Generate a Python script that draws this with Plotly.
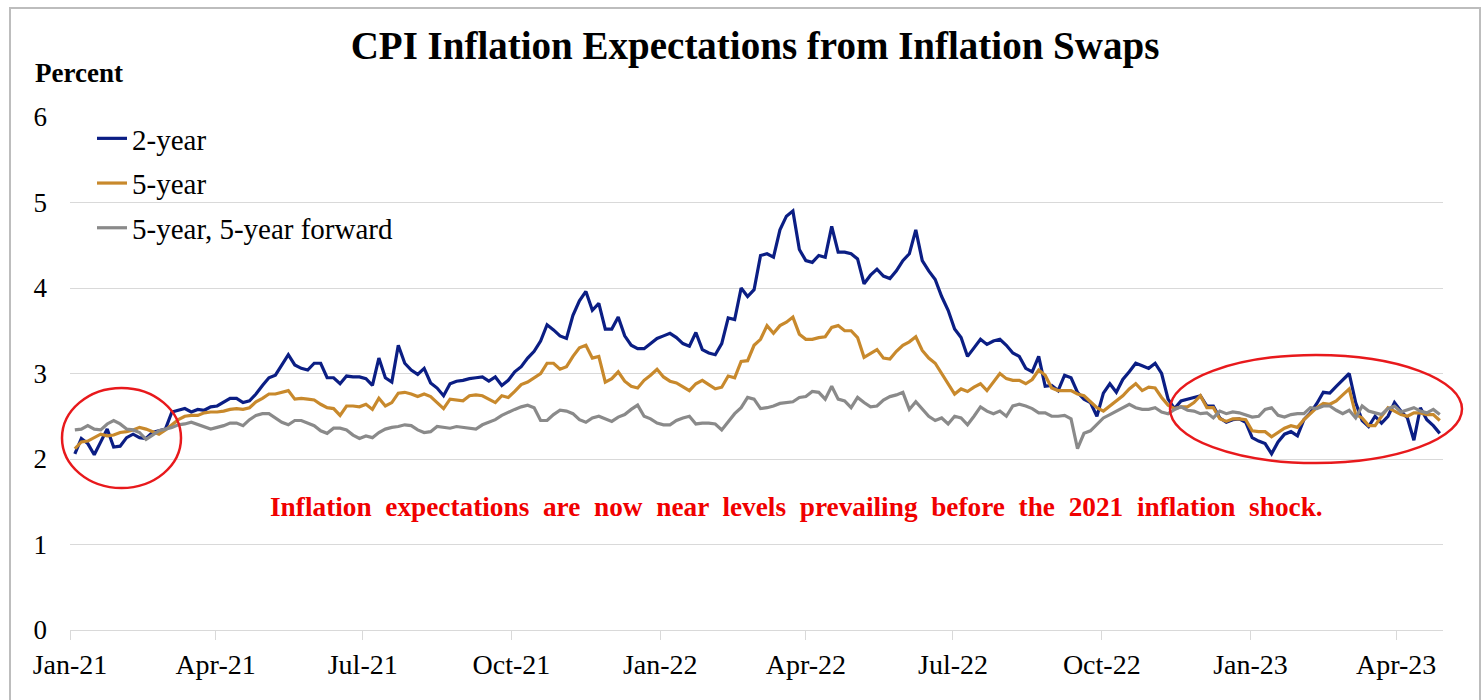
import pandas as pd
import plotly.graph_objects as go

# Observation dates (every 4 days, Jan 2021 - Apr 2023)
dates = pd.date_range("2021-01-04", periods=212, freq="4D")

two_year = [
    2.06, 2.24, 2.18, 2.05, 2.20, 2.35, 2.14, 2.15, 2.25, 2.29,
    2.25, 2.24, 2.31, 2.33, 2.35, 2.55, 2.57, 2.59, 2.55, 2.58,
    2.57, 2.61, 2.62, 2.66, 2.71, 2.71, 2.66, 2.68, 2.76, 2.86,
    2.95, 2.98, 3.10, 3.22, 3.10, 3.06, 3.04, 3.12, 3.12, 2.95,
    2.95, 2.88, 2.97, 2.96, 2.96, 2.94, 2.86, 3.18, 2.95, 2.90,
    3.33, 3.12, 3.04, 2.99, 3.06, 2.89, 2.83, 2.74, 2.88, 2.91,
    2.92, 2.94, 2.95, 2.96, 2.91, 2.96, 2.86, 2.92, 3.02, 3.08,
    3.18, 3.26, 3.38, 3.57, 3.51, 3.44, 3.41, 3.68, 3.85, 3.96,
    3.74, 3.82, 3.52, 3.52, 3.66, 3.44, 3.33, 3.29, 3.29, 3.35,
    3.41, 3.44, 3.47, 3.42, 3.35, 3.32, 3.48, 3.28, 3.24, 3.22,
    3.35, 3.65, 3.63, 4.00, 3.90, 3.98, 4.38, 4.40, 4.36, 4.68,
    4.84, 4.90, 4.45, 4.32, 4.30, 4.38, 4.36, 4.72, 4.42, 4.42,
    4.40, 4.34, 4.05, 4.15, 4.22, 4.14, 4.11, 4.20, 4.32, 4.40,
    4.68, 4.32, 4.20, 4.10, 3.90, 3.74, 3.52, 3.42, 3.20, 3.30,
    3.40, 3.34, 3.38, 3.40, 3.33, 3.24, 3.20, 3.06, 3.02, 3.20,
    2.85, 2.86, 2.80, 2.98, 2.95, 2.78, 2.70, 2.66, 2.50, 2.77,
    2.88, 2.78, 2.93, 3.02, 3.12, 3.09, 3.06, 3.12, 3.00, 2.70,
    2.59, 2.68, 2.70, 2.72, 2.74, 2.62, 2.62, 2.48, 2.43, 2.46,
    2.47, 2.43, 2.25, 2.21, 2.18, 2.06, 2.20, 2.29, 2.32, 2.27,
    2.46, 2.54, 2.65, 2.78, 2.77, 2.85, 2.93, 3.00, 2.66, 2.45,
    2.38, 2.50, 2.42, 2.50, 2.66, 2.56, 2.48, 2.22, 2.60, 2.46,
    2.39, 2.30,
]

five_year = [
    2.12, 2.20, 2.21, 2.25, 2.29, 2.27, 2.28, 2.31, 2.32, 2.34,
    2.37, 2.35, 2.32, 2.29, 2.34, 2.40, 2.46, 2.50, 2.51, 2.51,
    2.54, 2.55, 2.55, 2.56, 2.58, 2.59, 2.58, 2.60, 2.67, 2.71,
    2.76, 2.76, 2.78, 2.80, 2.70, 2.71, 2.70, 2.69, 2.64, 2.60,
    2.59, 2.51, 2.62, 2.62, 2.61, 2.64, 2.58, 2.71, 2.62, 2.66,
    2.77, 2.78, 2.76, 2.73, 2.76, 2.73, 2.66, 2.59, 2.70, 2.69,
    2.68, 2.74, 2.75, 2.74, 2.70, 2.66, 2.74, 2.72, 2.79, 2.87,
    2.90, 2.95, 3.00, 3.12, 3.12, 3.05, 3.08, 3.20, 3.30, 3.33,
    3.18, 3.20, 2.90, 2.94, 3.02, 2.91, 2.85, 2.83, 2.92, 2.98,
    3.05, 2.96, 2.91, 2.89, 2.84, 2.80, 2.88, 2.92, 2.87, 2.82,
    2.84, 2.97, 2.95, 3.14, 3.15, 3.33, 3.40, 3.56, 3.47, 3.56,
    3.60, 3.66, 3.46, 3.40, 3.40, 3.42, 3.43, 3.54, 3.56, 3.50,
    3.50, 3.42, 3.19, 3.24, 3.28, 3.18, 3.17, 3.26, 3.33, 3.37,
    3.43, 3.27, 3.18, 3.12, 3.00, 2.89, 2.76, 2.82, 2.79, 2.84,
    2.88, 2.80, 2.90, 3.00, 2.94, 2.92, 2.92, 2.88, 2.93, 3.04,
    2.98, 2.83, 2.80, 2.80, 2.80, 2.76, 2.74, 2.67, 2.60, 2.56,
    2.62, 2.69, 2.74, 2.82, 2.88, 2.80, 2.84, 2.83, 2.72, 2.63,
    2.59, 2.61, 2.61, 2.66, 2.74, 2.60, 2.60, 2.47, 2.44, 2.47,
    2.47, 2.46, 2.33, 2.32, 2.32, 2.26, 2.31, 2.36, 2.39, 2.37,
    2.46, 2.53, 2.60, 2.65, 2.64, 2.68, 2.75, 2.82, 2.52, 2.48,
    2.39, 2.39, 2.50, 2.60, 2.56, 2.52, 2.50, 2.54, 2.54, 2.52,
    2.52, 2.45,
]

five_five_fwd = [
    2.34, 2.35, 2.39, 2.35, 2.34, 2.41, 2.45, 2.41, 2.35, 2.34,
    2.31, 2.23, 2.28, 2.33, 2.35, 2.37, 2.40, 2.41, 2.43, 2.40,
    2.37, 2.35, 2.37, 2.39, 2.42, 2.42, 2.39, 2.46, 2.51, 2.53,
    2.53, 2.48, 2.43, 2.40, 2.45, 2.45, 2.42, 2.39, 2.33, 2.30,
    2.36, 2.36, 2.34, 2.28, 2.24, 2.27, 2.25, 2.31, 2.35, 2.37,
    2.38, 2.40, 2.39, 2.34, 2.31, 2.32, 2.38, 2.37, 2.36, 2.38,
    2.37, 2.36, 2.35, 2.40, 2.43, 2.46, 2.51, 2.55, 2.58, 2.61,
    2.63, 2.60, 2.45, 2.45, 2.52, 2.57, 2.56, 2.53, 2.46, 2.43,
    2.48, 2.50, 2.47, 2.44, 2.49, 2.52, 2.58, 2.63, 2.50, 2.47,
    2.42, 2.40, 2.40, 2.45, 2.48, 2.50, 2.41, 2.42, 2.42, 2.41,
    2.34, 2.43, 2.53, 2.60, 2.72, 2.70, 2.59, 2.60, 2.62, 2.65,
    2.66, 2.67, 2.72, 2.73, 2.79, 2.78, 2.70, 2.85, 2.70, 2.68,
    2.60, 2.72, 2.66, 2.61, 2.62, 2.69, 2.73, 2.75, 2.78, 2.58,
    2.67, 2.58, 2.50, 2.45, 2.48, 2.41, 2.50, 2.48, 2.40, 2.50,
    2.61, 2.56, 2.53, 2.56, 2.50, 2.62, 2.64, 2.62, 2.59, 2.54,
    2.54, 2.50, 2.50, 2.51, 2.47, 2.12, 2.30, 2.33, 2.41, 2.48,
    2.52, 2.56, 2.60, 2.64, 2.60, 2.58, 2.58, 2.60, 2.55, 2.53,
    2.58, 2.61, 2.57, 2.56, 2.53, 2.54, 2.48, 2.56, 2.53, 2.55,
    2.54, 2.51, 2.49, 2.50, 2.58, 2.60, 2.51, 2.49, 2.52, 2.53,
    2.53, 2.60, 2.59, 2.62, 2.62, 2.57, 2.53, 2.57, 2.48, 2.62,
    2.56, 2.54, 2.52, 2.59, 2.62, 2.55, 2.58, 2.60, 2.56, 2.54,
    2.58, 2.52,
]

series_names = ["2-year", "5-year", "5-year, 5-year forward"]
series_colors = ["#0B1E84", "#C8892C", "#8A8A8A"]
series_values = [two_year, five_year, five_five_fwd]

y_ticks = [0, 1, 2, 3, 4, 5, 6]

SERIF = "Liberation Serif, Times New Roman, serif"

fig = go.Figure()
for i, (name, color, vals) in enumerate(zip(series_names, series_colors, series_values)):
    fig.add_trace(go.Scatter(
        x=dates, y=vals, mode="lines", name=name,
        line=dict(color=color, width=3.2),
        legendgroup=f"g{i}",
    ))

W, H = 1484, 700
L, R, T, B = 70, 41, 117, 70
pw, ph = W - L - R, H - T - B

def px_x(p):
    return (p - L) / pw

def px_y(p):
    return (H - B - p) / ph

shapes = [
    # outer frame
    dict(type="rect", xref="paper", yref="paper",
         x0=px_x(10), x1=px_x(1480), y0=px_y(712), y1=px_y(8),
         line=dict(color="#BDBDBD", width=2), fillcolor="rgba(0,0,0,0)", layer="below"),
    # highlight ellipses
    dict(type="circle", xref="paper", yref="paper",
         x0=px_x(62), x1=px_x(181), y0=px_y(488), y1=px_y(388),
         line=dict(color="#E8191C", width=2.5)),
    dict(type="circle", xref="paper", yref="paper",
         x0=px_x(1170), x1=px_x(1462), y0=px_y(463), y1=px_y(355),
         line=dict(color="#E8191C", width=2.5)),
]

annotations = [
    dict(text="<b>Percent</b>", xref="paper", yref="paper",
         x=px_x(33), y=px_y(73), xanchor="left", yanchor="middle",
         showarrow=False, font=dict(family=SERIF, size=27, color="black")),
    dict(text="<b>Inflation  expectations  are  now  near  levels  prevailing  before  the  2021  inflation  shock.</b>",
         xref="paper", yref="paper", x=px_x(796), y=px_y(507),
         xanchor="center", yanchor="middle", showarrow=False,
         font=dict(family=SERIF, size=27.3, color="#F00000")),
]

fig.update_layout(
    width=W, height=H,
    margin=dict(l=L, r=R, t=T, b=B, autoexpand=False),
    paper_bgcolor="white", plot_bgcolor="white",
    title=dict(text="<b>CPI Inflation Expectations from Inflation Swaps</b>",
               x=755 / W, xanchor="center", y=1 - 45 / H, yanchor="middle",
               font=dict(family=SERIF, size=39, color="black")),
    showlegend=True,
    legend=dict(x=px_x(92), y=px_y(113), xanchor="left", yanchor="top",
                bgcolor="rgba(255,255,255,0)", borderwidth=0,
                font=dict(family=SERIF, size=29, color="black"),
                tracegroupgap=4, itemwidth=30),
    shapes=shapes,
    annotations=annotations,
    hovermode=False,
)

fig.update_xaxes(
    type="date", range=["2021-01-01", "2023-04-30"],
    tick0="2021-01-01", dtick="M3", tickformat="%b-%y",
    showgrid=False, showline=True, linecolor="#D9D9D9", linewidth=1,
    ticks="outside", ticklen=9, tickcolor="#D9D9D9",
    tickfont=dict(family=SERIF, size=28, color="black"),
    zeroline=False,
)
fig.update_yaxes(
    range=[0, 6], tickvals=y_ticks,
    showgrid=True, gridcolor="#D9D9D9", gridwidth=1,
    zeroline=False, showline=False,
    ticks="", ticklabelstandoff=22,
    tickfont=dict(family=SERIF, size=27, color="black"),
)

fig.write_html("out.html", config={"displayModeBar": False},
               post_script="document.body.style.margin='0';")
